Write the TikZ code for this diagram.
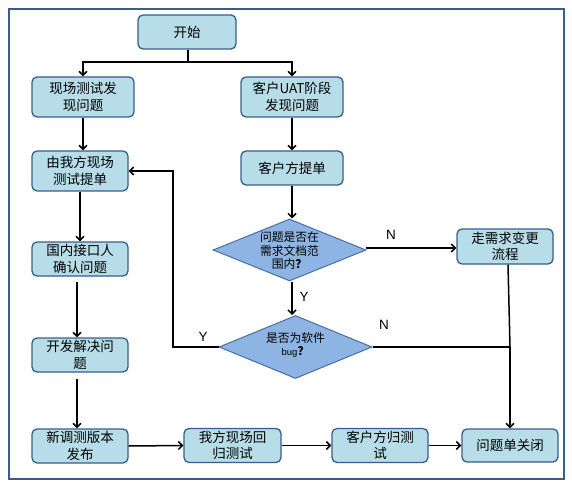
\documentclass[tikz,border=0pt]{standalone}
\usepackage{fontspec}
\setmainfont{Noto Sans CJK SC}
\newfontfamily\latinf{Liberation Sans}
\usetikzlibrary{arrows.meta,shapes.geometric}
\definecolor{boxfill}{RGB}{183,221,232}
\definecolor{boxline}{RGB}{56,93,138}
\definecolor{diafill}{RGB}{141,180,226}
\definecolor{dialine}{RGB}{70,110,170}
\definecolor{framec}{RGB}{59,92,140}
\tikzset{
  pbox/.style={draw=boxline,fill=boxfill,line width=1.3pt,rounded corners=5pt,
    inner sep=0pt,align=center,font=\fontsize{13.5}{16.5}\selectfont},
  dia/.style={draw=dialine,fill=diafill,line width=1pt,diamond,inner sep=0pt},
  diatext/.style={align=center,font=\fontsize{11.8}{13.5}\selectfont,inner sep=0pt},
  conn/.style={draw=black,line width=1.5pt},
  arr/.style={conn,-{Straight Barb[length=4pt,width=8pt]}},
  yn/.style={font=\latinf\fontsize{13.5}{13.5}\selectfont,inner sep=0pt}
}
\begin{document}
\begin{tikzpicture}[x=1pt,y=-1pt]
\useasboundingbox (0,0) rectangle (572,486);
\draw[framec,line width=2pt] (8.5,9.5) rectangle (563.5,479);

\node[pbox,minimum width=98,minimum height=34] (start) at (187,32) {开始};
\node[pbox,minimum width=102,minimum height=40] (xc) at (83,97) {现场测试发\\现问题};
\node[pbox,minimum width=102,minimum height=40] (uat) at (292,97) {客户UAT阶段\\发现问题};
\node[pbox,minimum width=96,minimum height=40] (wf) at (80,171) {由我方现场\\测试提单};
\node[pbox,minimum width=102,minimum height=34] (khtd) at (292,168) {客户方提单};
\node[pbox,minimum width=96,minimum height=34] (gn) at (80,259) {国内接口人\\确认问题};
\node[pbox,minimum width=96,minimum height=34] (kf) at (80,355) {开发解决问\\题};
\node[pbox,minimum width=96,minimum height=34] (xt) at (80,446) {新调测版本\\发布};
\node[pbox,minimum width=97,minimum height=34] (wfhg) at (232.5,445.5) {我方现场回\\归测试};
\node[pbox,minimum width=96,minimum height=34] (khhg) at (380,445.5) {客户方归测\\试};
\node[pbox,minimum width=96,minimum height=33] (close) at (510,445.5) {问题单关闭};
\node[pbox,minimum width=96,minimum height=35] (xq) at (505,246.5) {走需求变更\\流程};

\node[dia,minimum width=153,minimum height=62] (d1) at (289.5,250) {};
\node[diatext] (d1t) at (289.5,251) {问题是否在\\需求文档范\\围内\textbf{？}};
\node[dia,minimum width=153,minimum height=63] (d2) at (295.5,347) {};
\node[diatext] (d2t) at (295.5,345) {是否为软件\\{\latinf\fontsize{9.5}{11}\selectfont bug}\textbf{？}};

% start split
\coordinate (sp) at (188,62);
\draw[conn,line width=2.5pt] (start.south -| sp) -- (sp);
\draw[arr] (sp) -| (xc.north);
\draw[arr] (sp) -| (uat.north);

\draw[arr] (xc.south) -- (xc.south |- wf.north);
\draw[arr] (uat.south) -- (khtd.north);
\draw[arr] (wf.south) -- (gn.north);
\draw[arr] ([xshift=-3pt,yshift=-5pt]gn.south) -- ([xshift=-3pt]kf.north);
\draw[arr] ([xshift=-3pt,yshift=-6pt]kf.south) -- ([xshift=-3pt]xt.north);
\draw[arr] (khtd.south) -- (khtd.south |- d1.north);

\coordinate (d1r) at (366,248);
\draw[arr] (d1r) -- (d1r -| xq.west);
\draw[arr] (d1.south -| khtd.south) -- (khtd.south |- d2.north);

% Y loop back
\coordinate (lp) at (173,347);
\draw[arr] (d2.west) -- (lp) |- (wf.east);

% N to close
\coordinate (jn) at (510,347);
\draw[conn] (d2.east) -- (jn);
\draw[conn] ([xshift=3pt]xq.south) -- (jn);
\draw[arr] (jn) -- (close.north);

% bottom row
\draw[arr] (xt.east) -- (wfhg.west);
\draw[arr] (wfhg.east) -- (khhg.west);
\draw[arr] (khhg.east) -- (close.west);

% labels
\node[yn] (n1) at (391,235) {N};
\node[yn] (y1) at (304,297) {Y};
\node[yn] (n2) at (384,325) {N};
\node[yn] (y2) at (203,337) {Y};
\end{tikzpicture}
\end{document}
